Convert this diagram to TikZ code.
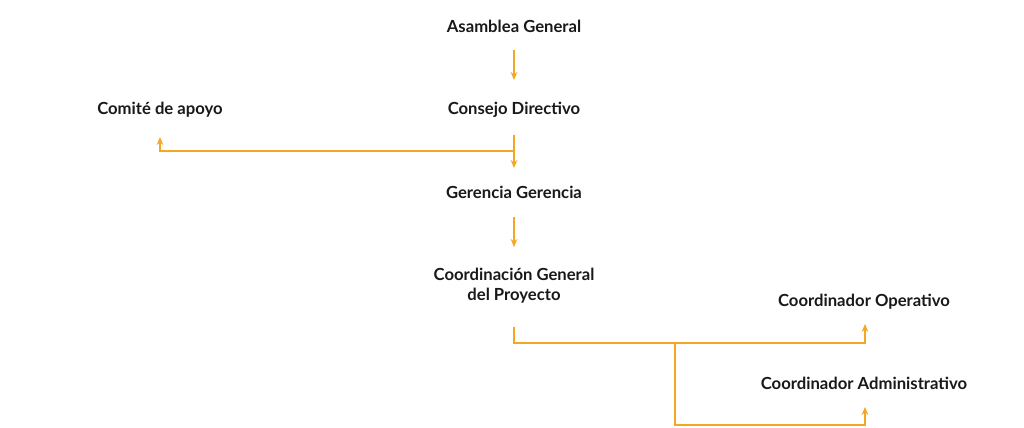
\documentclass[tikz,border=0pt]{standalone}
\usepackage{fontspec}
\setmainfont{Lato}
\usetikzlibrary{arrows.meta}
\definecolor{org}{HTML}{F5A623}
\begin{document}
\begin{tikzpicture}[x=0.75pt,y=-0.75pt,
  lbl/.style={font=\bfseries\fontsize{12.5}{15}\selectfont, align=center, text=black!90, inner sep=0pt},
  con/.style={draw=org, line width=1.4pt},
  arr/.style={con, -{Stealth[length=6pt,width=5pt]}}]
\useasboundingbox (0,0) rectangle (1024,428);
\node[lbl] (ag) at (514,26) {Asamblea General};
\node[lbl] (cd) at (514,110) {Consejo Directivo};
\node[lbl] (ca) at (160,110) {Comité de apoyo};
\node[lbl] (gg) at (514,192) {Gerencia Gerencia};
\node[lbl] (cg) at (514,286) {Coordinación General\\del Proyecto};
\node[lbl] (co) at (864,302) {Coordinador Operativo};
\node[lbl] (cad) at (864,383) {Coordinador Administrativo};
\coordinate (j1) at (514,151);
\coordinate (j2) at (675,343);
\draw[arr] (514,50) -- (514,80);
\draw[arr] (514,135) -- (514,168);
\draw[arr] (j1) -- (160,151) -- (160,137);
\draw[arr] (514,217) -- (514,247);
\draw[arr] (514,327) -- (514,343) -- (865,343) -- (865,324);
\draw[arr] (j2) -- (675,425) -- (865,425) -- (865,407);
\end{tikzpicture}
\end{document}
